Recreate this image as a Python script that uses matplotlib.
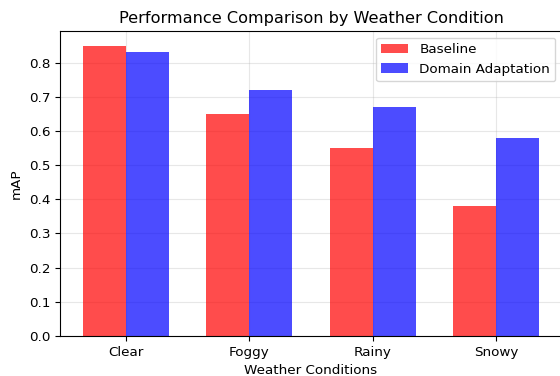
import numpy as np
import matplotlib
matplotlib.use("Agg")
import matplotlib.pyplot as plt

conditions = ['Clear', 'Foggy', 'Rainy', 'Snowy']
baseline = [0.85, 0.65, 0.55, 0.38]
adapted = [0.83, 0.72, 0.67, 0.58]

x = np.arange(len(conditions))
width = 0.35

fig = plt.figure(figsize=(5.6, 3.76), dpi=100)
ax = fig.add_axes([60/560, 40/376, 502/560, 305/376])

ax.bar(x - width/2, baseline, width, label='Baseline', color='red', alpha=0.7)
ax.bar(x + width/2, adapted, width, label='Domain Adaptation', color='blue', alpha=0.7)

ax.set_xlabel('Weather Conditions', fontsize=9.7)
ax.set_ylabel('mAP', fontsize=9.7)
ax.set_title('Performance Comparison by Weather Condition', fontsize=11.6)
ax.set_xticks(x)
ax.set_xticklabels(conditions)
ax.tick_params(labelsize=9.7)
ax.legend(fontsize=9.7, loc='upper right')
ax.grid(True, alpha=0.3)
ax.set_axisbelow(True)
# right edge of the original image was cropped, spine not visible
ax.spines['right'].set_visible(False)

fig.savefig('out.png', dpi=100)
